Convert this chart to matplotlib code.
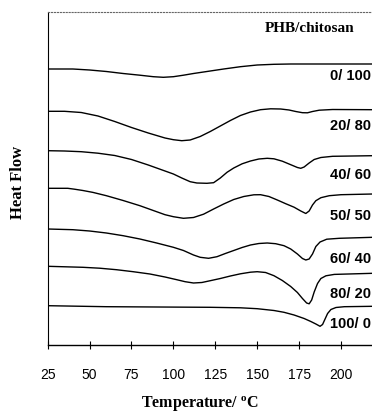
import matplotlib
matplotlib.use("Agg")
import matplotlib.pyplot as plt

# DSC traces of PHB/chitosan blends
# (heat flow in arbitrary units, curves already stacked)
TEMP_0_100 = [25, 40, 50, 60, 70, 80, 88, 94, 100, 106, 112, 120, 130, 140, 150, 160, 170, 219]
HF_0_100 = [276, 276, 275, 273.5, 271.5, 269.8, 268.3, 267.7, 268.3, 269.8, 271.5, 273.5,
            276, 278.3, 280, 280.7, 281, 281]

TEMP_20_80 = [25, 35, 45, 55, 65, 75, 85, 95, 100, 105, 110, 116, 122, 128, 134, 140, 146,
              152, 158, 164, 169, 173, 177, 180, 183, 187, 195, 219]
HF_20_80 = [233.7, 233.7, 232.5, 229, 223.5, 217.5, 212, 207, 205.3, 204.3, 205, 208.5,
            213.5, 219, 224.5, 229.5, 233, 235.3, 236.2, 236, 235, 233.5, 232.3, 232.2,
            233.5, 234.8, 235.5, 235.3]

TEMP_40_60 = [25, 35, 45, 55, 65, 75, 85, 95, 100, 105, 110, 114, 120, 124, 128, 132, 136,
              141, 146, 151, 156, 160, 165, 170, 174, 176, 178, 181, 184, 188, 195, 219]
HF_40_60 = [194.3, 194, 193.3, 191.8, 189.5, 185.5, 180, 174, 171, 167, 163.3, 162, 161.7,
            162.3, 167, 172.7, 177, 181.2, 184, 186, 186.7, 186.2, 183.8, 180.3, 177.5,
            176.7, 178, 182, 185.5, 187.5, 188.7, 189.3]

TEMP_50_50 = [25, 37, 41, 46, 52, 60, 70, 80, 88, 95, 100, 106, 112, 118, 124, 130, 136, 142,
              148, 152, 157, 162, 167, 172, 176, 179, 181, 183, 185, 188, 193, 200, 219]
HF_50_50 = [156.7, 156.7, 155.8, 154.5, 152.6, 149.3, 144.5, 139.3, 134.5, 130.3, 128.3,
            126.7, 127.5, 130.8, 136, 141, 145.5, 148.5, 150.2, 150.3, 148.5, 145, 141.3,
            137.8, 134, 131.5, 134, 140, 144.3, 147.3, 149.3, 150.3, 151]

TEMP_60_40 = [25, 40, 50, 60, 70, 80, 90, 100, 106, 112, 116, 121, 126, 131, 136, 141, 146,
              151, 156, 161, 166, 170, 174, 177, 179, 181, 183, 185, 187.5, 191.5, 199, 219]
HF_60_40 = [116, 115.3, 114, 112, 109.3, 106, 102, 97.7, 94.5, 90, 87.7, 86.7, 88.3, 91.5,
            94.5, 97.5, 100, 101.5, 102, 101.3, 99.3, 96, 91, 86.5, 85, 86, 91, 98.5, 103,
            105.8, 106.7, 107.7]

TEMP_80_20 = [25, 46, 56, 66, 76, 86, 95, 102, 107, 112, 117, 122, 128, 134, 140, 146, 150,
              155, 160, 165, 170, 174, 177, 179.5, 181, 182.5, 184, 186, 188, 191, 196, 219]
HF_80_20 = [78.7, 77.7, 76.8, 75.3, 73.3, 71, 68, 65.3, 63.3, 62, 62.5, 64.3, 66.5, 69, 71.2,
            72.8, 73.3, 72.5, 69.3, 64.5, 58.5, 52.5, 46.5, 42, 41.2, 45, 53, 61.5, 66.5,
            69.2, 70.6, 71.7]

TEMP_100_0 = [25, 60, 100, 122, 140, 150, 160, 166, 172, 178, 182, 185, 187.5, 189, 190.5,
              192, 194, 197, 202, 219]
HF_100_0 = [39.3, 38.3, 37.9, 37.7, 37.2, 36.3, 34.5, 32.7, 30, 26.5, 23.5, 21, 18.7, 20.5,
            26, 31.5, 35.5, 37.5, 38.3, 38.7]

CURVES = [
    (TEMP_0_100, HF_0_100, "0/ 100", 269.5),
    (TEMP_20_80, HF_20_80, "20/ 80", 220),
    (TEMP_40_60, HF_40_60, "40/ 60", 171),
    (TEMP_50_50, HF_50_50, "50/ 50", 130),
    (TEMP_60_40, HF_60_40, "60/ 40", 87),
    (TEMP_80_20, HF_80_20, "80/ 20", 52),
    (TEMP_100_0, HF_100_0, "100/ 0", 22),
]
X_TICKS = [25, 50, 75, 100, 125, 150, 175, 200]

SERIF = "Liberation Serif"
SANS = "Liberation Sans"
plt.rcParams["mathtext.fontset"] = "custom"
plt.rcParams["mathtext.rm"] = "Liberation Serif:bold"
plt.rcParams["mathtext.it"] = "Liberation Serif:bold"

W, H = 372, 414
fig = plt.figure(figsize=(W / 100, H / 100), dpi=100)
ax = fig.add_axes([47.7 / W, 68 / H, (W - 47.7) / W, 333.5 / H])

for temps, hf, label, label_y in CURVES:
    ax.plot(temps, hf, color="black", lw=1.0, solid_joinstyle="round",
            solid_capstyle="round")
    ax.text(218, label_y, label, ha="right", va="center", fontsize=10.5,
            family=SANS, fontweight="bold")

ax.text(181, 317, "PHB/chitosan", ha="center", va="center", fontsize=11,
        family=SERIF, fontweight="bold")

ax.set_xlim(25, 218.5)
ax.set_ylim(0, 333.5)
ax.set_xticks(X_TICKS)
ax.set_yticks([])
ax.tick_params(axis="x", direction="inout", length=6, width=0.8, pad=13, labelsize=10)
for lbl in ax.get_xticklabels():
    lbl.set_family(SANS)

ax.spines["right"].set_visible(False)
ax.spines["top"].set_linestyle(":")
ax.spines["top"].set_color("#666666")
ax.spines["top"].set_linewidth(0.8)
ax.spines["left"].set_linewidth(0.8)
ax.spines["bottom"].set_linewidth(1.0)

fig.text(200 / W, 1 - 404 / H, "Temperature/ $^{\\mathrm{o}}$C", ha="center", va="center",
         family=SERIF, fontweight="bold", fontsize=11.5)
fig.text(18 / W, 1 - 182 / H, "Heat Flow", rotation=90, ha="center", va="center",
         family=SERIF, fontweight="bold", fontsize=12)

fig.savefig("out.png", dpi=100)
